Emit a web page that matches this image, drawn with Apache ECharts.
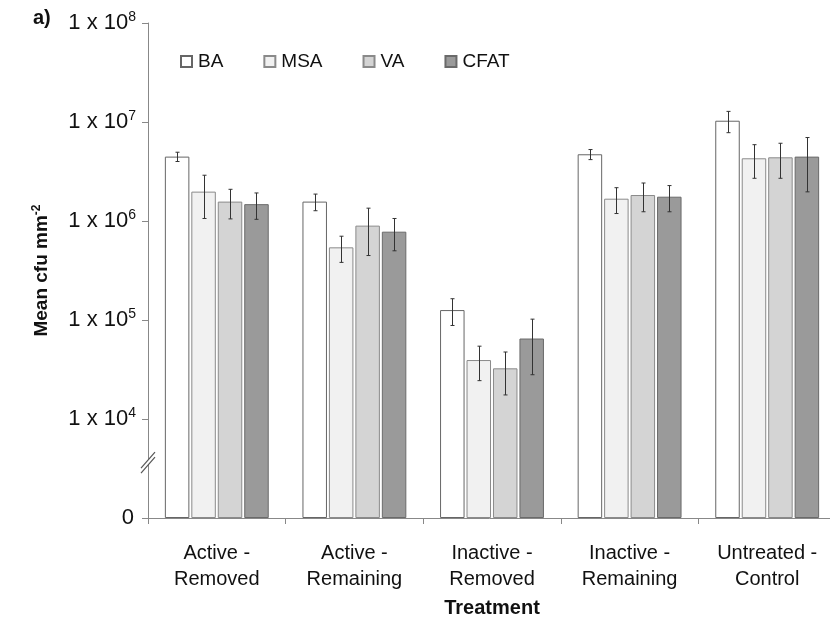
<!DOCTYPE html>
<html>
<head>
<meta charset="utf-8">
<script src="https://cdn.jsdelivr.net/npm/echarts@6/dist/echarts.min.js"></script>
<style>
html,body{margin:0;padding:0;background:#fff;}
#chart{width:830px;height:620px;}
</style>
</head>
<body>
<div id="chart"></div>
<script>
// ---- data ----
const categories = ['Active -\nRemoved', 'Active -\nRemaining', 'Inactive -\nRemoved', 'Inactive -\nRemaining', 'Untreated -\nControl'];
const seriesNames = ['BA', 'MSA', 'VA', 'CFAT'];
const BA      = [4.47e6, 1.57e6, 1.26e5, 4.72e6, 1.03e7];
const BA_SE   = [0.48e6, 0.30e6, 3.8e4, 0.55e6, 2.5e6];
const MSA     = [1.98e6, 5.42e5, 3.94e4, 1.68e6, 4.3e6];
const MSA_SE  = [0.92e6, 1.6e5, 1.5e4, 0.49e6, 1.6e6];
const VA      = [1.57e6, 8.98e5, 3.25e4, 1.83e6, 4.4e6];
const VA_SE   = [0.52e6, 4.5e5, 1.5e4, 0.59e6, 1.7e6];
const CFAT    = [1.48e6, 7.8e5, 6.5e4, 1.76e6, 4.47e6];
const CFAT_SE = [0.44e6, 2.8e5, 3.7e4, 0.52e6, 2.5e6];
const yMin = 1000;       // shown as "0" (axis break)
const yMax = 1e8;
const breakValue = 3850; // where the axis break marks sit

// ---- styling ----
const means = [BA, MSA, VA, CFAT];
const ses = [BA_SE, MSA_SE, VA_SE, CFAT_SE];
const fills = ['#ffffff', '#f1f1f1', '#d4d4d4', '#9a9a9a'];
const borders = ['#666666', '#8a8a8a', '#8a8a8a', '#6a6a6a'];
const BAR_W = 24.5;
const GAP_RATIO = 0.08;

const chart = echarts.init(document.getElementById('chart'), null, {renderer: 'canvas'});

const barSeries = seriesNames.map((name, k) => ({
  name: name,
  type: 'bar',
  data: means[k],
  barWidth: BAR_W,
  barGap: (GAP_RATIO * 100) + '%',
  clip: true,
  itemStyle: {color: fills[k], borderColor: borders[k], borderWidth: 1},
  emphasis: {disabled: true},
  z: 2
}));

const errSeries = seriesNames.map((name, k) => ({
  name: name + ' err',
  type: 'custom',
  z: 5,
  silent: true,
  data: means[k].map((m, i) => [i, m - ses[k][i], m + ses[k][i]]),
  renderItem: function (params, api) {
    const ci = api.value(0);
    const lo = api.coord([ci, api.value(1)]);
    const hi = api.coord([ci, api.value(2)]);
    const x = Math.round(lo[0] + (k - 1.5) * (BAR_W * (1 + GAP_RATIO))) + 0.5;
    const cap = 2;
    const st = {stroke: '#333', lineWidth: 1};
    return {
      type: 'group',
      children: [
        {type: 'line', shape: {x1: x, y1: hi[1], x2: x, y2: lo[1]}, style: st},
        {type: 'line', shape: {x1: x - cap, y1: hi[1], x2: x + cap, y2: hi[1]}, style: st},
        {type: 'line', shape: {x1: x - cap, y1: lo[1], x2: x + cap, y2: lo[1]}, style: st}
      ]
    };
  }
}));

const option = {
  animation: false,
  backgroundColor: '#fff',
  textStyle: {fontFamily: 'Liberation Sans, Arial, sans-serif', color: '#111'},
  legend: {
    data: seriesNames,
    left: 175, top: 47,
    icon: 'rect',
    itemWidth: 11, itemHeight: 11,
    itemGap: 40,
    textStyle: {fontSize: 19, color: '#111', padding: [0, 0, 0, 1]},
    selectedMode: false
  },
  grid: {left: 148, top: 23, width: 688, height: 495, containLabel: false, outerBoundsMode: 'none'},
  xAxis: {
    type: 'category',
    data: categories,
    name: 'Treatment',
    nameLocation: 'middle',
    nameGap: 80,
    nameTextStyle: {fontSize: 20, fontWeight: 'bold', color: '#111'},
    axisLine: {lineStyle: {color: '#888', width: 1}},
    axisTick: {show: true, length: 6, inside: false, lineStyle: {color: '#888'}},
    axisLabel: {fontSize: 20, lineHeight: 26, margin: 22, color: '#111', interval: 0}
  },
  yAxis: {
    type: 'log',
    logBase: 10,
    min: yMin,
    max: yMax,
    startValue: yMin,
    name: 'Mean cfu mm{sup|-2}',
    nameLocation: 'middle',
    nameGap: 95,
    nameRotate: 90,
    nameTextStyle: {
      fontSize: 19, fontWeight: 'bold', color: '#111',
      rich: {sup: {fontSize: 12, fontWeight: 'bold', color: '#111', verticalAlign: 'top', padding: [0, 0, 10, 0]}}
    },
    splitLine: {show: false},
    axisLine: {show: true, lineStyle: {color: '#888', width: 1}},
    axisTick: {show: true, length: 6, inside: false, lineStyle: {color: '#888'}},
    axisLabel: {
      fontSize: 22, color: '#111', margin: 12,
      formatter: function (v) {
        if (Math.abs(v - yMin) < 1) return '{zero|0}';
        const e = Math.round(Math.log10(v));
        return '1 x 10{sup|' + e + '}';
      },
      rich: {
        sup: {fontSize: 14, color: '#111', verticalAlign: 'top', padding: [0, 0, 11, 0]},
        zero: {fontSize: 22, color: '#111', padding: [0, 2, 0, 0]}
      }
    }
  },
  series: barSeries.concat(errSeries)
};

chart.setOption(option);

// axis break marks
const p = chart.convertToPixel({gridIndex: 0}, [0, breakValue]);
const ax = 148;
const by = p[1];
chart.setOption({
  graphic: [
    {type: 'text', left: 33, top: 8,
     style: {text: 'a)', font: 'bold 20px "Liberation Sans", Arial, sans-serif', fill: '#111'}},
    {type: 'polygon', z: 10, shape: {points: [[ax - 7, by + 8], [ax + 7, by - 8], [ax + 7, by - 3], [ax - 7, by + 13]]},
     style: {fill: '#fff'}},
    {type: 'line', z: 11, shape: {x1: ax - 7, y1: by + 8, x2: ax + 7, y2: by - 8}, style: {stroke: '#555', lineWidth: 1.2}},
    {type: 'line', z: 11, shape: {x1: ax - 7, y1: by + 13, x2: ax + 7, y2: by - 3}, style: {stroke: '#555', lineWidth: 1.2}}
  ]
});
</script>
</body>
</html>
